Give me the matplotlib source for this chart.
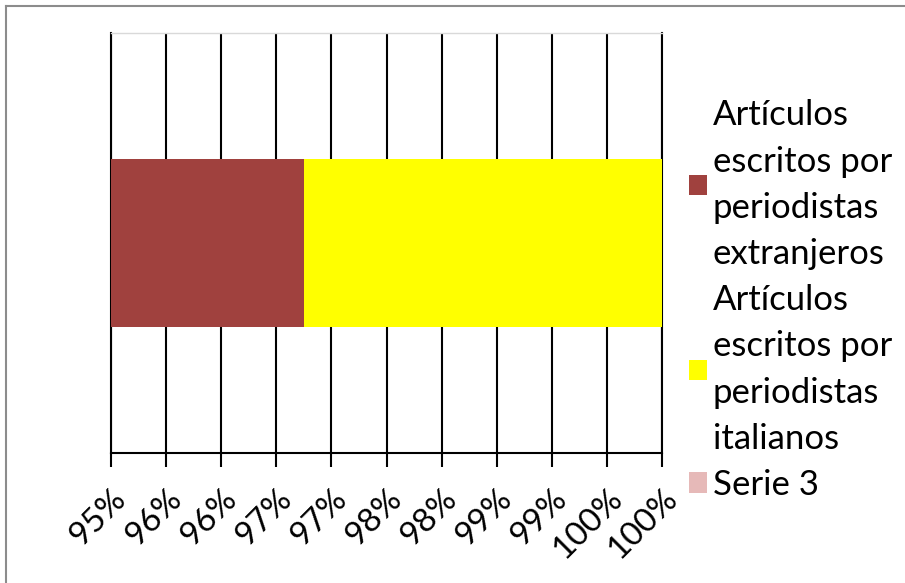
import matplotlib
matplotlib.use("Agg")
import matplotlib.pyplot as plt
from matplotlib.patches import Patch
from matplotlib.lines import Line2D
import numpy as np

# Data
categories = ["1"]
series_names = [
    "Artículos\nescritos por\nperiodistas\nextranjeros",
    "Artículos\nescritos por\nperiodistas\nitalianos",
    "Serie 3",
]
foreign = [0.9675]
italian = [0.0325]
serie3 = [0.0]
tick_values = [0.95, 0.955, 0.96, 0.965, 0.97, 0.975, 0.98, 0.985, 0.99, 0.995, 1.0]
tick_labels = ["95%", "96%", "96%", "97%", "97%", "98%", "98%", "99%", "99%", "100%", "100%"]

colors = ["#A0413E", "#FFFF00", "#E6B9B8"]

plt.rcParams["font.family"] = ["Lato", "DejaVu Sans"]

W, H = 905, 583
fig = plt.figure(figsize=(W / 100, H / 100), dpi=100)
ax = fig.add_axes([111 / W, 1 - 453 / H, 551 / W, 420 / H])

y = np.arange(len(categories))
left = np.zeros(len(categories))
for vals, col in zip([foreign, italian, serie3], colors):
    ax.barh(y, vals, left=left, height=0.4, color=col, edgecolor="none", zorder=3)
    left = left + np.array(vals)

ax.set_xlim(0.95, 1.0)
ax.set_ylim(-0.5, 0.5)
ax.set_yticks([])
ax.set_xticks(tick_values)
ax.set_xticklabels(tick_labels, rotation=45, ha="right", va="top",
                   rotation_mode="anchor", fontsize=24)
ax.tick_params(axis="x", direction="out", length=10, width=1.5, color="black", pad=12)
ax.grid(axis="x", color="black", linewidth=1.5, zorder=0)
for s in ["left", "right", "bottom"]:
    ax.spines[s].set_color("black")
    ax.spines[s].set_linewidth(1.5)
ax.spines["top"].set_color("#D9D9D9")
ax.spines["top"].set_linewidth(1.0)

handles = [Patch(facecolor=c, edgecolor="none") for c in colors]
leg = fig.legend(handles, series_names, loc="center left",
                 bbox_to_anchor=(672 / W, 1 - 300 / H), frameon=False,
                 fontsize=25, handlelength=0.52, handleheight=0.52,
                 handletextpad=0.15, labelspacing=0.4, borderpad=0)
for t in leg.get_texts():
    t.set_linespacing(1.55)

# outer frame on the left and top edges
fig.add_artist(Line2D([6 / W, 6 / W], [0, 1 - 6 / H], transform=fig.transFigure,
                      color="#8C8C8C", linewidth=1.5))
fig.add_artist(Line2D([6 / W, 1], [1 - 6 / H, 1 - 6 / H], transform=fig.transFigure,
                      color="#8C8C8C", linewidth=1.5))

fig.savefig("out.png", dpi=100)
